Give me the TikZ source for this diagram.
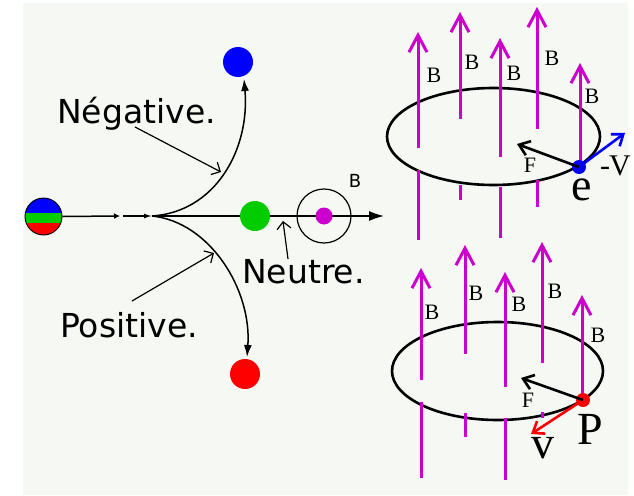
\documentclass[tikz,border=0pt]{standalone}
\usepackage{fontspec}
\setmainfont{Liberation Serif}
\newfontfamily\sansfont{DejaVu Sans}
\usetikzlibrary{arrows.meta, positioning}
\definecolor{paper}{RGB}{246,248,244}
\definecolor{fieldmag}{RGB}{204,0,204}
\definecolor{negblue}{RGB}{0,0,255}
\definecolor{posred}{RGB}{255,0,0}
\definecolor{neugreen}{RGB}{0,204,0}

\tikzset{
  dot/.style={circle, inner sep=0pt, minimum size=#1},
  orbit/.style={line width=1.5pt, -{Latex[length=12pt,width=8pt]}},
  pointer/.style={line width=1.2pt, -{Straight Barb[length=7pt,width=14pt]}},
  fieldline/.style={fieldmag, line width=3pt},
  fieldarrow/.style={fieldline, -{Straight Barb[length=17pt,width=18pt]}},
  ring/.style={line width=2.6pt},
  force/.style={line width=2.6pt, -{Straight Barb[length=10pt,width=15pt]}},
  sanslabel/.style={font=\sansfont\fontsize{33}{36}\selectfont, inner sep=0pt, anchor=base west},
  blabel/.style={font=\fontsize{22}{24}\selectfont, inner sep=0pt},
  biglabel/.style={font=\fontsize{46}{48}\selectfont, inner sep=0pt},
}

\begin{document}
\begin{tikzpicture}[x=1pt, y=-1pt]
  \useasboundingbox (0,0) rectangle (634,495);
  \fill[paper] (23,3) rectangle (628,495);

  % incoming particle and its three tracks
  \node[dot=37pt, draw, line width=0.9pt,
    path picture={
      \fill[negblue] ([yshift=3.4pt]path picture bounding box.west) rectangle (path picture bounding box.north east);
      \fill[neugreen] ([yshift=3.4pt]path picture bounding box.west) rectangle ([yshift=-6.6pt]path picture bounding box.east);
      \fill[posred] ([yshift=-6.6pt]path picture bounding box.west) rectangle (path picture bounding box.south east);
    }] (src) at (43.5,216.5) {};
  \coordinate (mid) at (120,216);
  \coordinate (split) at (152,216);
  \coordinate (exit) at (384,216);
  \coordinate (negtip) at (244,79);
  \coordinate (postip) at (247,357);

  \draw[line width=1.5pt, -{Latex[length=6pt,width=6pt]}] (src.east) -- (mid);
  \draw[line width=1.5pt, -{Latex[length=8pt,width=5pt]}] ([xshift=3pt]mid) -- (split);
  \draw[orbit, -{Latex[length=15pt,width=10pt]}] (split) -- (exit);
  \draw[orbit] (split) .. controls (215,212) and (250,150) .. (negtip);
  \draw[orbit] (split) .. controls (210,222) and (252,290) .. (postip);

  \node[dot=30pt, fill=negblue] (neg) at (238,62) {};
  \node[dot=30pt, fill=posred] (pos) at (245,374) {};
  \node[dot=30pt, fill=neugreen] (neu) at (255,216) {};
  \node[dot=54pt, draw, line width=1.2pt] (field) at (324,216) {};
  \node[dot=17pt, fill=fieldmag] (core) at (324,216) {};
  \node[font=\sansfont\fontsize{18}{18}\selectfont, inner sep=0pt] (fieldname) at (355,181) {B};

  % labels with their pointers
  \node[sanslabel] (neglabel) at (57,123) {Négative.};
  \node[sanslabel] (poslabel) at (60,337) {Positive.};
  \node[sanslabel] (neulabel) at (242,283) {Neutre.};
  \coordinate (negfoot) at (135,127);
  \coordinate (negmark) at (221,172);
  \coordinate (posfoot) at (132,301);
  \coordinate (posmark) at (214,253);
  \coordinate (neufoot) at (288,259);
  \coordinate (neumark) at (283,221);
  \draw[pointer] (negfoot) -- (negmark);
  \draw[pointer] (posfoot) -- (posmark);
  \draw[pointer] (neufoot) -- (neumark);

  % electron on its loop
  \draw[ring] (493.5,136.5) ellipse (106.5 and 48.5);
  \foreach \x/\tip/\cut in {418/32/148, 460/12/119, 500/38/157, 537/7/129, 580/63/167}
    \draw[fieldarrow] (\x,\cut) -- (\x,\tip);
  \foreach \x/\top/\bot in {418/170/240, 460/185/200, 500/187/238, 537/180/207}
    \draw[fieldline] (\x,\top) -- (\x,\bot);
  \foreach \x/\y in {434/75, 472/62, 514/73, 552/58, 592/96}
    \node[blabel] at (\x,\y) {B};
  \node[dot=14pt, fill=negblue] (eminus) at (579,167) {};
  \coordinate (evel) at (625,133);
  \coordinate (eforce) at (517,144);
  \draw[force, negblue] (eminus.center) -- (evel);
  \draw[force] (eminus.center) -- (eforce);
  \node[blabel] (ef) at (530,165) {F};
  \node[biglabel] (ename) at (582,190) {e};
  \node[font=\fontsize{30}{32}\selectfont, inner sep=0pt] (echarge) at (605,171) {-};
  \node[font=\fontsize{30}{32}\selectfont, inner sep=0pt] (ev) at (620,166) {V};

  % proton on its loop
  \draw[ring] (497.5,371) ellipse (105.5 and 49);
  \foreach \x/\tip/\cut in {421/268/380, 465/245/354, 505/272/387, 542/242/363, 582/295/398}
    \draw[fieldarrow] (\x,\cut) -- (\x,\tip);
  \foreach \x/\top/\bot in {421/402/478, 465/413/437, 505/418/480, 542/412/418}
    \draw[fieldline] (\x,\top) -- (\x,\bot);
  \foreach \x/\y in {432/312, 476/293, 519/304, 555/291, 598/335}
    \node[blabel] at (\x,\y) {B};
  \node[dot=14pt, fill=posred] (proton) at (583,400) {};
  \coordinate (pvel) at (531,434);
  \coordinate (pforce) at (521,378);
  \draw[force, posred] (proton.center) -- (pvel);
  \draw[force] (proton.center) -- (pforce);
  \node[blabel] (pf) at (528,400) {F};
  \node[biglabel] (pname) at (590,429) {P};
  \node[biglabel] (pv) at (543,448) {v};
\end{tikzpicture}
\end{document}
